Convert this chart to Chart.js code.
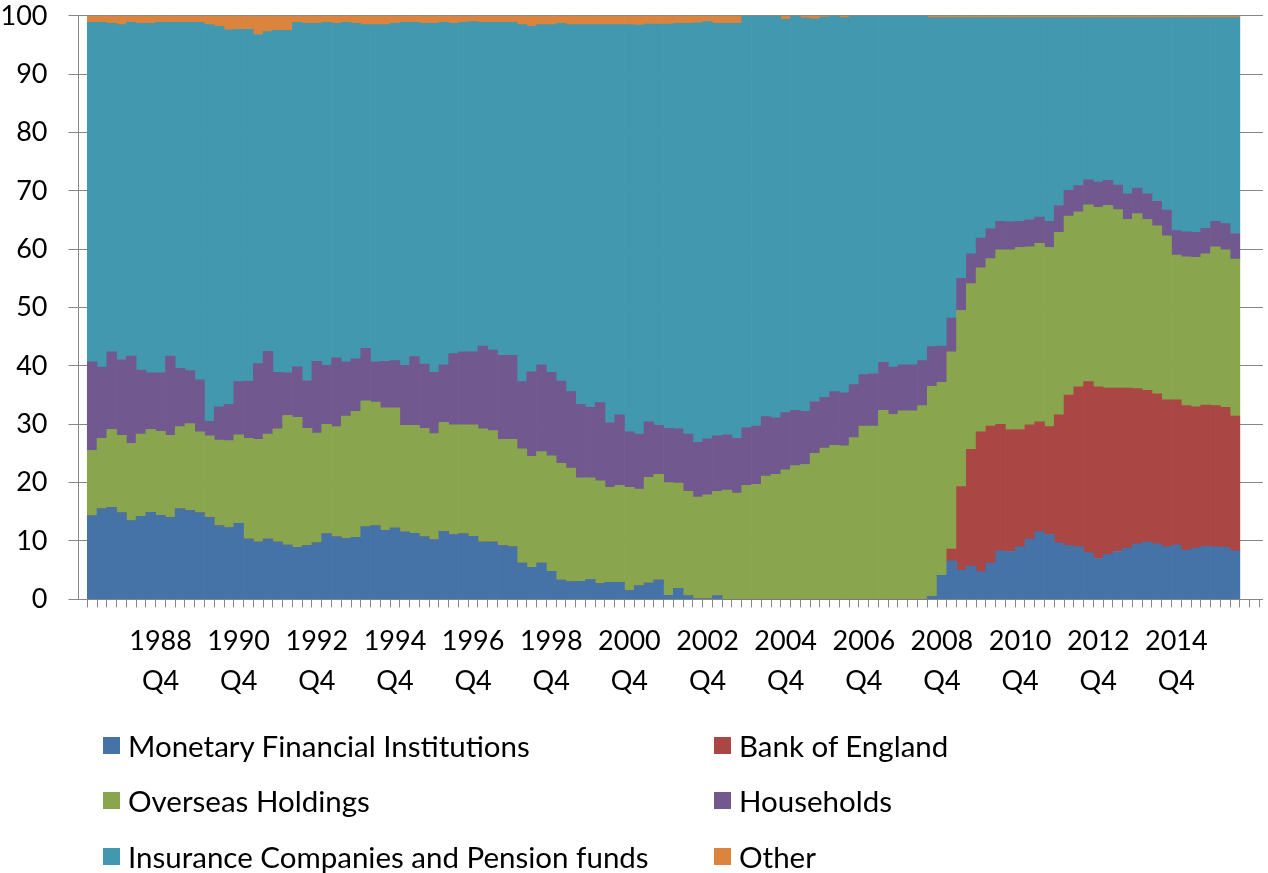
<!DOCTYPE html>
<html><head><meta charset="utf-8">
<script src="https://cdn.jsdelivr.net/npm/chart.js@4"></script>
<style>
html,body{margin:0;padding:0;background:#fff;}
#wrap{position:relative;width:1268px;height:873px;overflow:hidden;}
#c{position:absolute;left:0;top:-20px;}
.item{position:absolute;height:30px;display:flex;align-items:center;font-family:Lato,sans-serif;font-size:29.5px;color:#000;white-space:nowrap;}
.sw{width:17px;height:17px;margin-right:8px;flex:none;}
</style></head><body>
<div id="wrap"><canvas id="c" width="1268" height="893"></canvas><div id="legend"></div></div>
<script>
const categories = [
"1987 Q1","1987 Q2","1987 Q3","1987 Q4","1988 Q1","1988 Q2","1988 Q3","1988 Q4",
"1989 Q1","1989 Q2","1989 Q3","1989 Q4","1990 Q1","1990 Q2","1990 Q3","1990 Q4",
"1991 Q1","1991 Q2","1991 Q3","1991 Q4","1992 Q1","1992 Q2","1992 Q3","1992 Q4",
"1993 Q1","1993 Q2","1993 Q3","1993 Q4","1994 Q1","1994 Q2","1994 Q3","1994 Q4",
"1995 Q1","1995 Q2","1995 Q3","1995 Q4","1996 Q1","1996 Q2","1996 Q3","1996 Q4",
"1997 Q1","1997 Q2","1997 Q3","1997 Q4","1998 Q1","1998 Q2","1998 Q3","1998 Q4",
"1999 Q1","1999 Q2","1999 Q3","1999 Q4","2000 Q1","2000 Q2","2000 Q3","2000 Q4",
"2001 Q1","2001 Q2","2001 Q3","2001 Q4","2002 Q1","2002 Q2","2002 Q3","2002 Q4",
"2003 Q1","2003 Q2","2003 Q3","2003 Q4","2004 Q1","2004 Q2","2004 Q3","2004 Q4",
"2005 Q1","2005 Q2","2005 Q3","2005 Q4","2006 Q1","2006 Q2","2006 Q3","2006 Q4",
"2007 Q1","2007 Q2","2007 Q3","2007 Q4","2008 Q1","2008 Q2","2008 Q3","2008 Q4",
"2009 Q1","2009 Q2","2009 Q3","2009 Q4","2010 Q1","2010 Q2","2010 Q3","2010 Q4",
"2011 Q1","2011 Q2","2011 Q3","2011 Q4","2012 Q1","2012 Q2","2012 Q3","2012 Q4",
"2013 Q1","2013 Q2","2013 Q3","2013 Q4","2014 Q1","2014 Q2","2014 Q3","2014 Q4",
"2015 Q1","2015 Q2","2015 Q3","2015 Q4","2016 Q1","2016 Q2"];

const tickLabels = ["1988 Q4","1990 Q4","1992 Q4","1994 Q4","1996 Q4","1998 Q4","2000 Q4",
"2002 Q4","2004 Q4","2006 Q4","2008 Q4","2010 Q4","2012 Q4","2014 Q4"];

const yTicks = [0,10,20,30,40,50,60,70,80,90,100];

const mfi = [
14.3,15.5,15.7,14.8,13.5,14.2,14.9,14.4,14.0,15.5,
15.2,14.8,14.0,12.6,12.3,13.0,10.3,9.8,10.3,9.8,
9.3,8.9,9.2,9.7,11.2,10.7,10.4,10.6,12.4,12.6,
11.8,12.2,11.5,11.3,10.7,10.2,11.6,11.1,11.2,10.8,
9.8,9.8,9.2,9.0,6.2,5.5,6.2,4.8,3.3,3.0,
3.1,3.4,2.7,2.9,2.9,1.5,2.3,2.8,3.3,0.7,
1.9,0.6,0.1,0.1,0.6,0,0,0,0,0,
0,0,0,0,0,0,0,0,0,0,
0,0,0,0,0,0,0.5,4.1,6.6,5.0,
5.7,4.7,6.2,8.3,8.2,9.0,10.3,11.6,11.1,9.7,
9.2,9.0,8.0,7.0,7.7,8.2,8.8,9.5,9.8,9.5,
9.0,9.3,8.4,8.8,9.1,9.0,8.9,8.3];

const boe = [
0,0,0,0,0,0,0,0,0,0,
0,0,0,0,0,0,0,0,0,0,
0,0,0,0,0,0,0,0,0,0,
0,0,0,0,0,0,0,0,0,0,
0,0,0,0,0,0,0,0,0,0,
0,0,0,0,0,0,0,0,0,0,
0,0,0,0,0,0,0,0,0,0,
0,0,0,0,0,0,0,0,0,0,
0,0,0,0,0,0,0,0,2.0,14.3,
20.0,24.0,23.5,21.7,20.9,20.1,19.6,18.8,18.5,21.9,
25.8,27.4,29.3,29.4,28.5,28.0,27.4,26.6,26.0,25.7,
25.2,24.9,24.8,24.2,24.2,24.2,24.0,23.1];

const overseas = [
11.2,12.1,13.4,13.3,13.2,14.1,14.2,14.4,14.1,14.1,
14.9,13.9,14.0,14.7,14.9,15.2,17.3,17.6,18.0,19.4,
22.2,22.3,20.1,18.8,18.8,18.9,21.0,21.6,21.6,21.2,
21.0,20.6,18.3,18.5,18.6,18.2,18.7,18.8,18.7,19.1,
19.4,19.1,18.2,18.4,19.6,19.0,19.1,19.8,20.0,19.5,
17.7,17.4,17.6,16.3,16.6,17.7,16.6,18.1,18.1,19.3,
18.0,17.9,17.4,17.8,17.9,18.7,18.2,19.5,19.7,21.1,
21.4,22.2,22.9,23.1,25.0,25.9,26.4,26.3,27.7,29.7,
29.7,32.4,31.7,32.3,32.3,33.2,36.0,33.1,33.8,30.2,
28.4,28.1,28.7,29.9,30.8,31.2,30.5,30.6,30.7,31.3,
30.7,30.0,30.3,30.8,31.3,30.6,28.9,30.0,29.3,28.8,
28.1,24.8,25.5,25.6,25.9,27.2,27.0,26.9];

const households = [
15.2,12.2,13.3,13.0,15.0,11.0,9.7,10.0,13.6,10.0,
9.1,8.9,2.5,5.7,6.2,9.1,9.8,13.0,14.2,9.7,
7.3,8.7,8.2,12.3,10.1,11.8,9.3,9.0,9.0,6.9,
8.0,8.1,10.3,11.8,11.0,10.5,9.9,12.2,12.5,12.5,
14.2,13.8,14.4,14.4,11.5,14.5,14.9,14.3,14.1,13.1,
12.6,12.1,13.4,11.1,12.1,9.5,9.4,9.5,8.4,9.3,
9.3,9.8,9.4,9.6,9.5,9.5,9.4,9.9,10.0,10.2,
9.7,9.8,9.5,9.1,8.9,8.7,9.2,9.1,9.1,8.8,
9.0,8.2,8.1,7.9,7.9,7.7,6.8,6.2,5.8,5.5,
5.1,5.1,5.1,4.9,4.8,4.5,4.7,4.5,4.5,4.6,
4.4,4.5,4.3,4.3,4.3,4.2,4.4,4.4,4.4,4.2,
4.4,4.2,4.3,4.3,4.4,4.4,4.5,4.4];

const insurance = [
58.2,59.1,56.3,57.4,57.2,59.4,59.9,60.1,57.2,59.3,
59.7,61.3,68.0,65.2,64.2,60.4,60.3,56.4,54.8,58.6,
58.7,59.0,61.2,57.9,58.8,57.3,58.2,57.5,55.5,57.8,
57.7,57.8,58.8,57.3,58.4,59.8,58.7,56.6,56.5,56.6,
55.5,56.2,57.1,57.1,61.2,59.2,58.3,59.6,61.3,62.9,
65.1,65.6,64.8,68.2,66.9,69.8,70.1,68.2,68.8,69.3,
69.5,70.4,71.9,71.5,70.7,70.5,71.1,70.6,70.3,68.7,
68.9,67.4,67.6,67.4,65.6,65.2,64.4,64.3,63.2,61.5,
61.3,59.4,60.2,59.8,59.8,59.1,56.4,56.3,51.5,44.7,
40.5,37.8,36.2,34.9,35.0,34.9,34.6,34.2,34.9,32.2,
29.6,28.8,27.8,28.2,27.9,28.7,30.2,29.2,30.2,31.5,
33.0,36.5,36.7,36.8,36.1,34.9,35.3,37.0];

const other = [
1.1,1.1,1.3,1.5,1.1,1.3,1.3,1.1,1.1,1.1,
1.1,1.1,1.5,1.8,2.4,2.3,2.3,3.2,2.7,2.5,
2.5,1.1,1.3,1.3,1.1,1.3,1.1,1.3,1.5,1.5,
1.5,1.3,1.1,1.1,1.3,1.3,1.1,1.3,1.1,1.0,
1.1,1.1,1.1,1.1,1.5,1.8,1.5,1.5,1.3,1.5,
1.5,1.5,1.5,1.5,1.5,1.5,1.6,1.4,1.4,1.4,
1.3,1.3,1.2,1.0,1.3,1.3,1.3,0,0,0,
0,0.6,0,0.4,0.5,0.2,0,0.3,0,0,
0,0,0,0,0,0,0.3,0.3,0.3,0.3,
0.3,0.3,0.3,0.3,0.3,0.3,0.3,0.3,0.3,0.3,
0.3,0.3,0.3,0.3,0.3,0.3,0.3,0.3,0.3,0.3,
0.3,0.3,0.3,0.3,0.3,0.3,0.3,0.3];

const seriesNames = ["Monetary Financial Institutions","Bank of England","Overseas Holdings",
  "Households","Insurance Companies and Pension funds","Other"];
const seriesColors = ["#4572A7","#AA4643","#89A54E","#71588F","#4198AF","#DB843D"];
const seriesValues = [mfi, boe, overseas, households, insurance, other];

const labelAt = {};
tickLabels.forEach(t => { labelAt[categories.indexOf(t)] = t.split(' '); });

const FONT = 'Lato';
const AXIS = '#868686';

new Chart(document.getElementById('c'), {
  type: 'bar',
  data: {
    datasets: seriesValues.map((arr, i) => ({
      label: seriesNames[i],
      data: arr.map((v, j) => ({x: j, y: v})),
      backgroundColor: seriesColors[i],
      borderWidth: 0,
      barPercentage: 1.0,
      categoryPercentage: 1.0
    }))
  },
  options: {
    responsive: false,
    animation: false,
    devicePixelRatio: 1,
    layout: {padding: {left: 0, right: 0, top: 0, bottom: 173.7}},
    plugins: {legend: {display: false}, tooltip: {enabled: false}},
    scales: {
      x: {
        type: 'linear', stacked: true, min: -1.4, max: 119.86, offset: false,
        afterBuildTicks: s => {
          const t = [];
          for (let i = -1; i <= 119; i++) t.push({value: i});
          s.ticks = t;
        },
        afterFit: s => { s.height = 100; },
        grid: {offset: true, drawOnChartArea: false, drawTicks: true, tickLength: 8, color: AXIS, lineWidth: 1},
        border: {display: true, color: AXIS, width: 1},
        ticks: {
          autoSkip: false, maxRotation: 0, minRotation: 0, padding: 13.5,
          color: '#000', font: {family: FONT, size: 27, lineHeight: 1.5},
          callback: v => labelAt[v] || ''
        }
      },
      y: {
        stacked: true, min: 0, max: 100,
        afterBuildTicks: s => { s.ticks = yTicks.map(v => ({value: v})); },
        afterFit: s => { s.width = 78.5; },
        grid: {color: AXIS, lineWidth: 1, tickLength: 10, drawTicks: true},
        border: {display: true, color: AXIS, width: 1},
        ticks: {padding: 21, color: '#000', font: {family: FONT, size: 27, lineHeight: 1.1}}
      }
    }
  }
});

// legend (HTML, two columns)
const colX = [103, 714];
const rowY = [745, 800, 856];
const lg = document.getElementById('legend');
seriesNames.forEach((name, i) => {
  const d = document.createElement('div');
  d.className = 'item';
  d.style.left = colX[i % 2] + 'px';
  d.style.top = (rowY[Math.floor(i / 2)] - 15) + 'px';
  const sw = document.createElement('span');
  sw.className = 'sw';
  sw.style.background = seriesColors[i];
  const tx = document.createElement('span');
  tx.textContent = name;
  d.appendChild(sw); d.appendChild(tx);
  lg.appendChild(d);
});
</script>
</body></html>
